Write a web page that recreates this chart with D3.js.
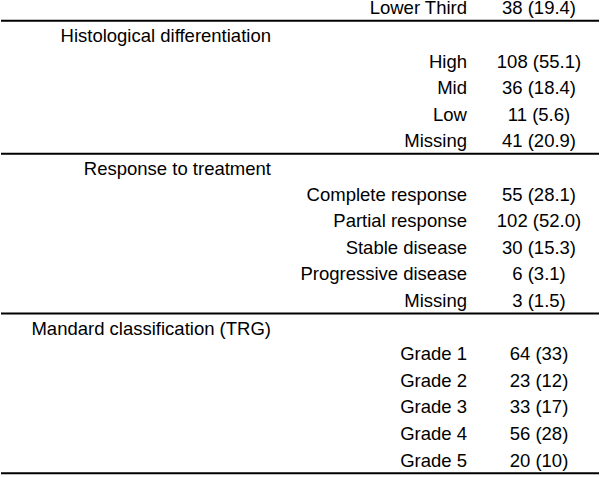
<!DOCTYPE html>
<html>
<head>
<meta charset="utf-8">
<script src="https://cdn.jsdelivr.net/npm/d3@7"></script>
<style>
  body { margin: 0; background: #fff; }
  text { font-family: "Liberation Sans", Arial, sans-serif; font-size: 18.5px; fill: #000; }
</style>
</head>
<body>
<script>
// table content, top to bottom
var topLabels = ["Lower Third"];
var topValues = ["38 (19.4)"];

var histoHeader = "Histological differentiation";
var histoLabels = ["High", "Mid", "Low", "Missing"];
var histoValues = ["108 (55.1)", "36 (18.4)", "11 (5.6)", "41 (20.9)"];

var respHeader = "Response to treatment";
var respLabels = ["Complete response", "Partial response", "Stable disease", "Progressive disease", "Missing"];
var respValues = ["55 (28.1)", "102 (52.0)", "30 (15.3)", "6 (3.1)", "3 (1.5)"];

var trgHeader = "Mandard classification (TRG)";
var trgLabels = ["Grade 1", "Grade 2", "Grade 3", "Grade 4", "Grade 5"];
var trgValues = ["64 (33)", "23 (12)", "33 (17)", "56 (28)", "20 (10)"];

var width = 600, height = 477;

// flatten into rows
var rows = [];
var groups = [
  {header: null, labels: topLabels, values: topValues},
  {header: histoHeader, labels: histoLabels, values: histoValues},
  {header: respHeader, labels: respLabels, values: respValues},
  {header: trgHeader, labels: trgLabels, values: trgValues}
];
var ruleAfter = [];
groups.forEach(function(g){
  if (g.header) rows.push({type: "header", text: g.header});
  g.labels.forEach(function(l, i){
    rows.push({type: "item", label: l, value: g.values[i]});
  });
  ruleAfter.push(rows.length - 1);
});

var y = d3.scaleLinear().domain([0, rows.length - 1]).range([14.3, 466.7]);
var x = d3.scaleLinear().domain([0, 1]).range([1, 599]);
var col = {header: 271, label: 467, value: 539};

var svg = d3.select("body").append("svg")
  .attr("width", width)
  .attr("height", height);

svg.selectAll(".rule")
  .data(ruleAfter)
  .enter().append("line")
  .attr("class", "rule")
  .attr("x1", x(0))
  .attr("x2", x(1))
  .attr("y1", function(d){ return y(d) + 6.5; })
  .attr("y2", function(d){ return y(d) + 6.5; })
  .attr("stroke", "#000")
  .attr("stroke-width", 2);

var hdr = rows.filter(function(d){ return d.type == "header"; });
var items = rows.filter(function(d){ return d.type == "item"; });

svg.selectAll(".hdr")
  .data(hdr)
  .enter().append("text")
  .attr("class", "hdr")
  .attr("x", col.header)
  .attr("y", function(d){ return y(rows.indexOf(d)) + 1.5; })
  .attr("text-anchor", "end")
  .text(function(d){ return d.text; });

svg.selectAll(".lbl")
  .data(items)
  .enter().append("text")
  .attr("class", "lbl")
  .attr("x", col.label)
  .attr("y", function(d){ return y(rows.indexOf(d)); })
  .attr("text-anchor", "end")
  .text(function(d){ return d.label; });

svg.selectAll(".val")
  .data(items)
  .enter().append("text")
  .attr("class", "val")
  .attr("x", col.value)
  .attr("y", function(d){ return y(rows.indexOf(d)); })
  .attr("text-anchor", "middle")
  .text(function(d){ return d.value; });
</script>
</body>
</html>
